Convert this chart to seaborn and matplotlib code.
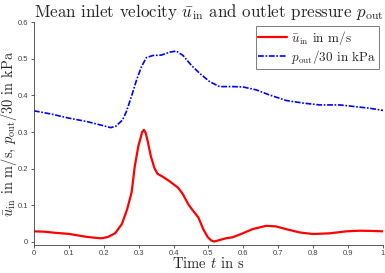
import pandas as pd
import matplotlib
matplotlib.use("Agg")
import matplotlib.pyplot as plt
import seaborn as sns

# values
t_in = [0.0, 0.03, 0.06, 0.1, 0.15, 0.19, 0.2, 0.214, 0.233, 0.252, 0.267,
        0.280, 0.289, 0.299, 0.306, 0.31, 0.315, 0.32, 0.325, 0.335, 0.345,
        0.354, 0.369, 0.388, 0.413, 0.427, 0.442, 0.456, 0.471, 0.485, 0.498,
        0.508, 0.516, 0.531, 0.550, 0.569, 0.598, 0.626, 0.665, 0.693, 0.722,
        0.761, 0.799, 0.847, 0.895, 0.933, 0.971, 1.0]
u_in = [0.029, 0.028, 0.025, 0.022, 0.014, 0.010, 0.011, 0.0144, 0.024, 0.049,
        0.089, 0.136, 0.207, 0.261, 0.285, 0.300, 0.306, 0.298, 0.279, 0.234,
        0.202, 0.186, 0.178, 0.166, 0.148, 0.130, 0.103, 0.085, 0.067, 0.035,
        0.013, 0.004, 0.001, 0.005, 0.010, 0.0127, 0.0235, 0.035, 0.044,
        0.0425, 0.035, 0.026, 0.0217, 0.0235, 0.029, 0.0307, 0.030, 0.029]

t_out = [0.0, 0.05, 0.1, 0.15, 0.2, 0.22, 0.235, 0.245, 0.254, 0.265, 0.279,
         0.294, 0.308, 0.322, 0.341, 0.365, 0.389, 0.408, 0.427, 0.451, 0.475,
         0.504, 0.532, 0.570, 0.599, 0.637, 0.675, 0.723, 0.771, 0.818, 0.876,
         0.923, 0.961, 1.0]
p_out = [0.358, 0.349, 0.338, 0.329, 0.317, 0.312, 0.316, 0.325, 0.333, 0.356,
         0.396, 0.442, 0.478, 0.503, 0.509, 0.510, 0.518, 0.521, 0.509, 0.482,
         0.460, 0.437, 0.424, 0.424, 0.423, 0.415, 0.401, 0.386, 0.379, 0.374,
         0.374, 0.369, 0.365, 0.359]

x_ticks = [0, 0.1, 0.2, 0.3, 0.4, 0.5, 0.6, 0.7, 0.8, 0.9, 1]
x_tick_labels = ["0", "0.1", "0.2", "0.3", "0.4", "0.5", "0.6", "0.7", "0.8", "0.9", "1"]
y_ticks = [0, 0.1, 0.2, 0.3, 0.4, 0.5, 0.6]
y_tick_labels = ["0", "0.1", "0.2", "0.3", "0.4", "0.5", "0.6"]


def main():
    sns.set_style("white")
    plt.rcParams["font.family"] = ["cmr10"]
    plt.rcParams["mathtext.fontset"] = "cm"
    plt.rcParams["axes.unicode_minus"] = False

    fig = plt.figure(figsize=(3.85, 2.73), dpi=100)
    ax = fig.add_axes([0.088, 0.103, 0.907, 0.816])

    df_in = pd.DataFrame({"t": t_in, "v": u_in})
    df_out = pd.DataFrame({"t": t_out, "v": p_out})
    sns.lineplot(data=df_in, x="t", y="v", ax=ax, color="#ff0000", lw=1.6,
                 label=r"$\bar{u}_\mathrm{in}$ in m/s")
    line_out = sns.lineplot(data=df_out, x="t", y="v", ax=ax, color="#0000ff", lw=1.2,
                            label=r"$p_\mathrm{out}/30$ in kPa").lines[-1]
    line_out.set_dashes((3.5, 1.0, 1.0, 1.0))

    ax.set_xlim(0, 1)
    ax.set_ylim(-0.008, 0.6)
    ax.set_xticks(x_ticks)
    ax.set_xticklabels(x_tick_labels, family="Liberation Sans", fontsize=5.5, color="#404040")
    ax.set_yticks(y_ticks)
    ax.set_yticklabels(y_tick_labels, family="Liberation Sans", fontsize=5.5, color="#404040")
    ax.tick_params(direction="out", length=2.5, width=0.6, color="#404040", pad=1.5,
                   bottom=True, left=True)
    for side in ["top", "right"]:
        ax.spines[side].set_visible(False)
    for side in ["left", "bottom"]:
        ax.spines[side].set_color("#404040")
        ax.spines[side].set_linewidth(0.6)

    ax.set_title(r"Mean inlet velocity $\bar{u}_\mathrm{in}$ and outlet pressure $p_\mathrm{out}$",
                 fontsize=12.2, pad=4)
    ax.set_xlabel(r"Time $t$ in s", fontsize=10.5)
    ax.xaxis.set_label_coords(0.5, -0.052)
    ax.set_ylabel(r"$\bar{u}_\mathrm{in}$ in m/s, $p_\mathrm{out}/30$ in kPa", fontsize=10.4)
    ax.yaxis.set_label_coords(-0.044, 0.5)

    leg = ax.legend(loc="upper right", fontsize=9.5, frameon=True, fancybox=False,
                    borderpad=0.2, handlelength=2.2, handletextpad=0.3,
                    labelspacing=0.1, borderaxespad=0.3)
    leg.get_frame().set_edgecolor("#404040")
    leg.get_frame().set_linewidth(0.6)
    leg.get_lines()[1].set_dashes((3.5, 1.0, 1.0, 1.0))

    fig.savefig("out.png", dpi=100)
    plt.close(fig)


if __name__ == "__main__":
    main()
